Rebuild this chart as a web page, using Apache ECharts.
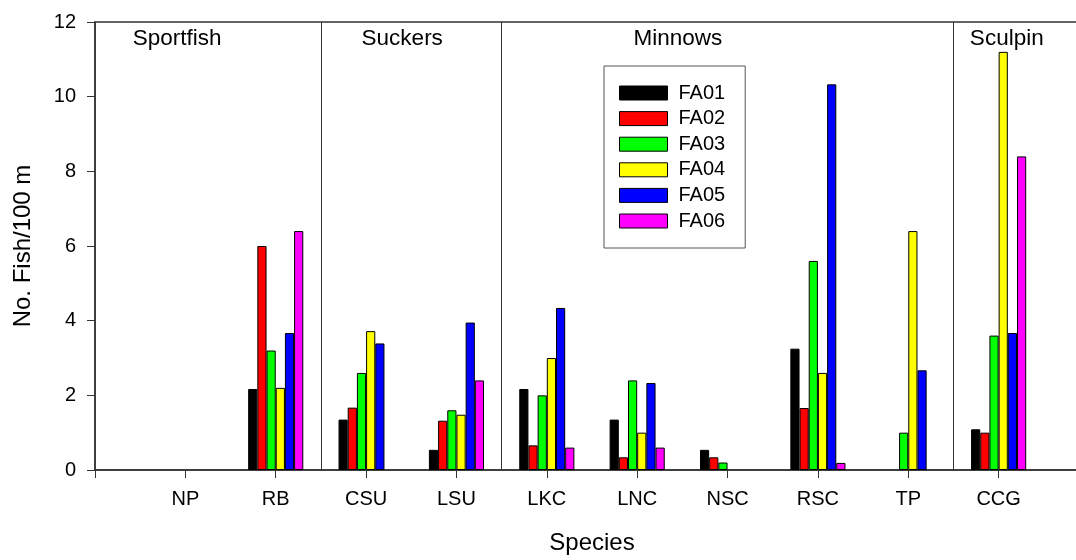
<!DOCTYPE html>
<html><head><meta charset="utf-8">
<script src="https://cdn.jsdelivr.net/npm/echarts@6/dist/echarts.min.js"></script>
<style>html,body{margin:0;padding:0;background:#fff;overflow:hidden;width:1076px;height:560px}#c{width:1100px;height:560px}</style>
</head><body><div id="c"></div>
<script>
const species = ['NP','RB','CSU','LSU','LKC','LNC','NSC','RSC','TP','CCG'];
const FA01 = [0, 2.17, 1.35, 0.54, 2.17, 1.35, 0.54, 3.25, 0, 1.09];
const FA02 = [0, 6.00, 1.67, 1.32, 0.66, 0.34, 0.34, 1.66, 0, 1.00];
const FA03 = [0, 3.20, 2.60, 1.60, 2.00, 2.40, 0.20, 5.60, 1.00, 3.60];
const FA04 = [0, 2.20, 3.72, 1.48, 3.00, 1.00, 0, 2.60, 6.40, 11.20];
const FA05 = [0, 3.67, 3.39, 3.95, 4.34, 2.33, 0, 10.33, 2.67, 3.67];
const FA06 = [0, 6.40, 0, 2.40, 0.60, 0.60, 0, 0.19, 0, 8.40];
const seriesNames = ['FA01','FA02','FA03','FA04','FA05','FA06'];
const yTicks = [0, 2, 4, 6, 8, 10, 12];
const groupNames = ['Sportfish','Suckers','Minnows','Sculpin'];
const groupLabelX = [0.91, 3.40, 6.45, 10.09];
const groupLabelY = 11.55;
const dividerX = [2.5, 4.5, 9.5];

const colors = ['#000000','#ff0000','#00ff00','#ffff00','#0000ff','#ff00ff'];
const values = [FA01, FA02, FA03, FA04, FA05, FA06];
const FONT = 'Liberation Sans, Arial, sans-serif';

const cats = [''].concat(species, ['']);
const pad = arr => ['-'].concat(arr.map(v => v === 0 ? '-' : v), ['-']);

const chart = echarts.init(document.getElementById('c'), null, {renderer: 'canvas'});
const series = values.map((v, i) => ({
  name: seriesNames[i],
  type: 'bar',
  xAxisIndex: 0, yAxisIndex: 0,
  data: pad(v),
  barGap: '0%',
  barCategoryGap: '39%',
  itemStyle: {color: colors[i], borderColor: '#000', borderWidth: 1},
  emphasis: {disabled: true}
}));
series.push({
  type: 'scatter',
  xAxisIndex: 1, yAxisIndex: 0,
  symbolSize: 0,
  silent: true,
  itemStyle: {opacity: 1},
  data: groupNames.map((n, i) => ({name: n, value: [groupLabelX[i], groupLabelY]})),
  label: {show: true, position: 'inside', formatter: '{b}', color: '#000', fontSize: 22.5, fontFamily: FONT, opacity: 1},
  markLine: {
    silent: true, symbol: ['none','none'],
    label: {show: false},
    lineStyle: {color: '#333', width: 1, type: 'solid'},
    data: dividerX.map(x => ({xAxis: x}))
  }
});

chart.setOption({
  animation: false,
  textStyle: {fontFamily: FONT},
  grid: {left: 95, top: 22, bottom: 85, right: 11, show: true, borderColor: '#333', borderWidth: 1.5, backgroundColor: 'transparent'},
  legend: {
    data: seriesNames,
    orient: 'vertical',
    left: 604, top: 66,
    padding: [17, 20, 17, 15],
    itemWidth: 48, itemHeight: 14, itemGap: 5.6,
    borderColor: '#555', borderWidth: 1,
    icon: 'rect',
    itemStyle: {borderColor: '#000', borderWidth: 1},
    textStyle: {fontSize: 20, fontFamily: FONT, color: '#000', lineHeight: 20, padding: [0, 0, 0, 6]},
    selectedMode: false
  },
  xAxis: [{
    type: 'category',
    data: cats,
    boundaryGap: false,
    name: 'Species', nameLocation: 'middle', nameGap: 61,
    nameTextStyle: {fontSize: 24, fontFamily: FONT, color: '#000'},
    axisLine: {lineStyle: {color: '#333', width: 1.5}},
    axisTick: {show: true, length: 8, inside: false, lineStyle: {color: '#333'}},
    axisLabel: {fontSize: 20, fontFamily: FONT, color: '#000', margin: 19, interval: 0},
    splitLine: {show: false}
  }, {
    type: 'value', min: 0, max: cats.length - 1,
    show: false, splitLine: {show: false}
  }],
  yAxis: {
    type: 'value', min: yTicks[0], max: yTicks[yTicks.length - 1], interval: 2,
    name: 'No. Fish/100 m', nameLocation: 'middle', nameGap: 60, nameRotate: 90,
    nameTextStyle: {fontSize: 24, fontFamily: FONT, color: '#000'},
    axisLine: {show: true, lineStyle: {color: '#333', width: 1.5}},
    axisTick: {show: true, length: 8, inside: false, lineStyle: {color: '#333'}},
    axisLabel: {fontSize: 20, fontFamily: FONT, color: '#000', margin: 19},
    splitLine: {show: false}
  },
  series: series
});
</script>
</body></html>
